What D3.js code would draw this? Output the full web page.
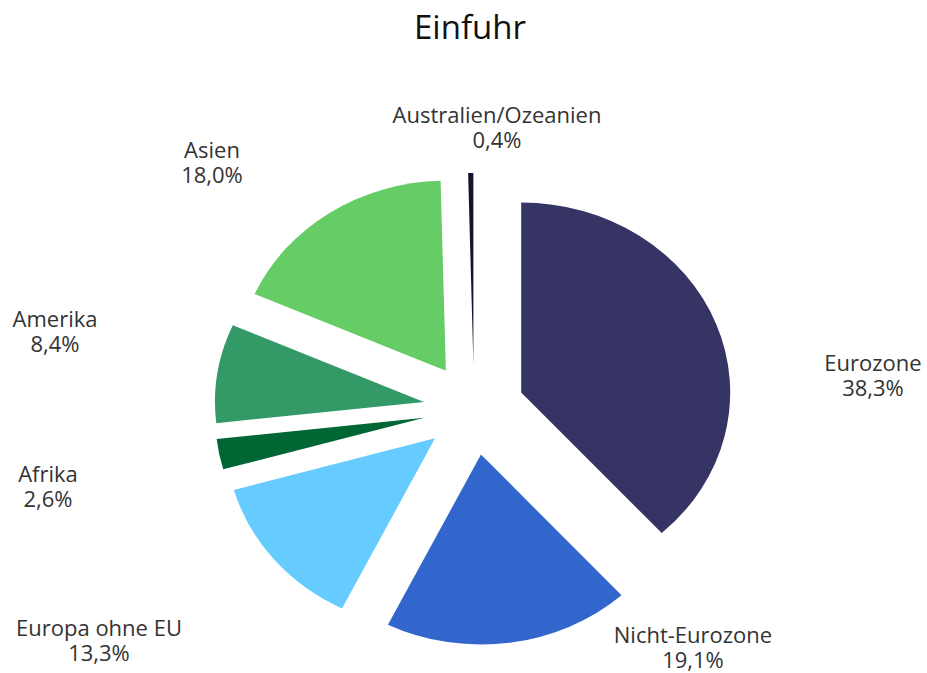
<!DOCTYPE html>
<html>
<head>
<meta charset="utf-8">
<script src="https://cdn.jsdelivr.net/npm/d3@7"></script>
<style>
  body { margin: 0; background: #fff; }
  text { font-family: 'Open Sans', sans-serif; }
</style>
</head>
<body>
<div id="chart"></div>
<script>
const regions = ['Eurozone', 'Nicht-Eurozone', 'Europa ohne EU', 'Afrika', 'Amerika', 'Asien', 'Australien/Ozeanien']
const shares = [38.3, 19.1, 13.3, 2.6, 8.4, 18.0, 0.4]
const colors = ['#363464', '#3366cc', '#66ccff', '#006633', '#339966', '#66cc66', '#14142e']
// label anchor points (centre of first line baseline)
const labelPos = [[873, 371], [693, 643], [99, 636], [48, 482], [55, 327], [212, 158], [497, 123]]

const width = 927, height = 673
const cx = 474, cy = 409, radius = 190, explode = 46, stretch = 1.1

const svg = d3.select('#chart').append('svg')
    .attr('width', width)
    .attr('height', height)

svg.append('text')
    .attr('x', 470)
    .attr('y', 39)
    .attr('text-anchor', 'middle')
    .style('font-size', '33px')
    .style('fill', '#111')
    .text('Einfuhr')

const pie = d3.pie().sort(null).value(d => d)
const arcs = pie(shares)
const arc = d3.arc().innerRadius(0).outerRadius(radius)

const g = svg.append('g')
    .attr('transform', `translate(${cx},${cy}) scale(${stretch},1)`)

g.selectAll('path')
    .data(arcs)
  .enter().append('path')
    .attr('d', arc)
    .attr('fill', (d, i) => colors[i])
    .attr('transform', d => {
      const a = (d.startAngle + d.endAngle) / 2
      return 'translate(' + [Math.sin(a) * explode, -Math.cos(a) * explode] + ')'
    })

const fmt = v => v.toFixed(1).replace('.', ',') + '%'

const labels = svg.selectAll('text.lbl')
    .data(arcs)
  .enter().append('text')
    .attr('class', 'lbl')
    .attr('text-anchor', 'middle')
    .style('font-size', '22px')
    .style('fill', '#333')

labels.append('tspan')
    .attr('x', (d, i) => labelPos[i][0])
    .attr('y', (d, i) => labelPos[i][1])
    .text((d, i) => regions[i])

labels.append('tspan')
    .attr('x', (d, i) => labelPos[i][0])
    .attr('y', (d, i) => labelPos[i][1] + 24.5)
    .text(d => fmt(d.data))
</script>
</body>
</html>
